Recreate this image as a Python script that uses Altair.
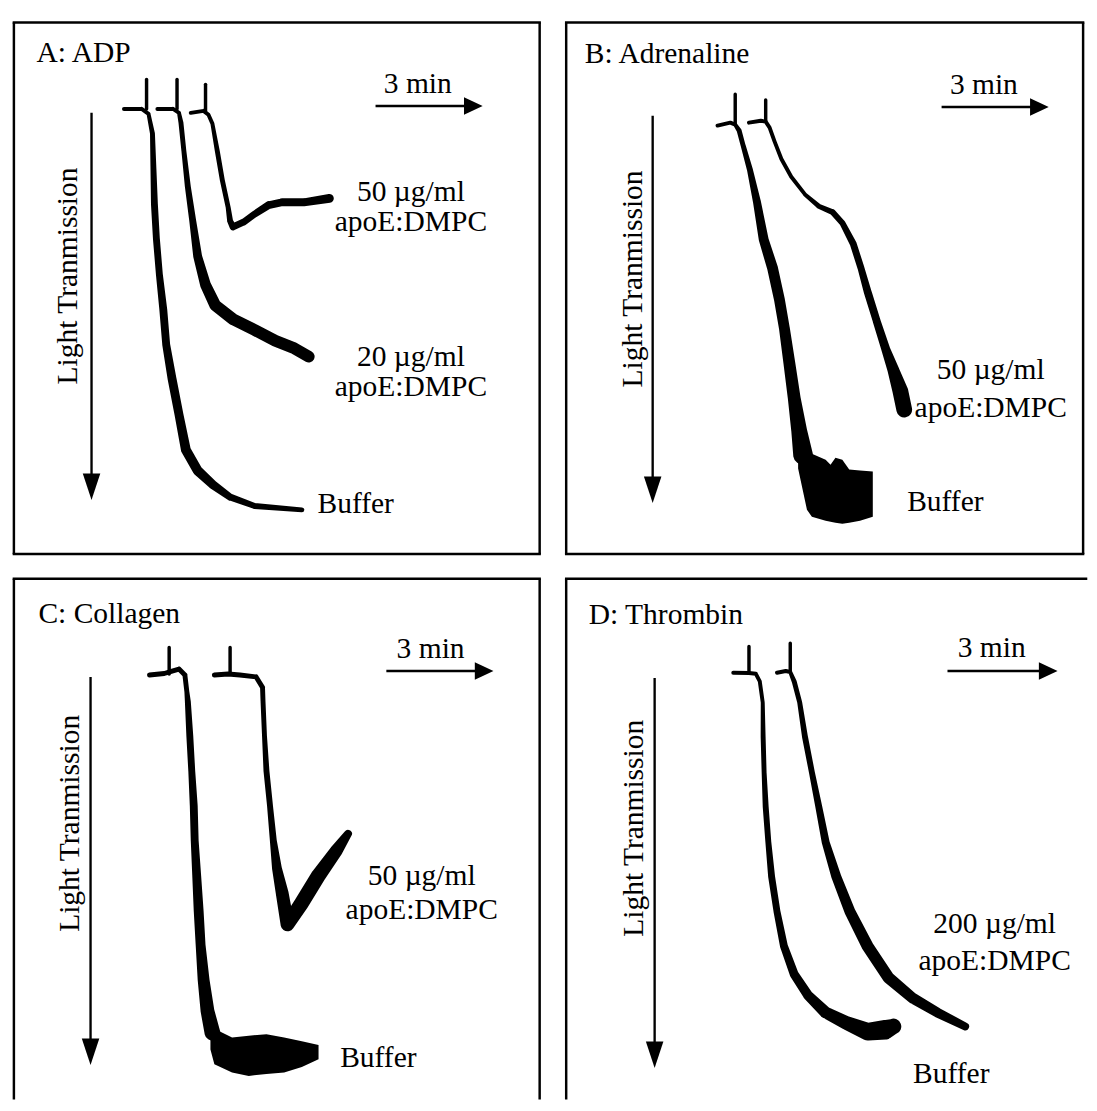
import altair as alt
import pandas as pd

FONT = "Liberation Serif"
FS = 30

# ---------------- panel sizes ----------------
PW = {"A": 535, "B": 526, "C": 535, "D": 520}
PH = {"A": 541, "B": 541, "C": 530, "D": 530}
BORDERS = {"A": ["l", "t", "r", "b"], "B": ["l", "t", "r", "b"], "C": ["l", "t", "r"], "D": ["l", "t"]}
TOP_EXTRA = {"A": 0, "B": 0, "C": 0, "D": 9}

# ---------------- Panel A: ADP ----------------
A_buf_x = [112, 130, 137, 141, 142, 143, 145, 148, 152, 155, 161, 168, 175, 187, 202, 220, 245, 293]
A_buf_y = [88, 88, 93, 113, 149, 185, 220, 256, 292, 328, 363, 399, 435, 456, 470, 483, 492, 496]
A_buf_w = [4, 4, 4, 5, 6, 7, 7, 7, 8, 8, 9, 9, 10, 10, 9, 7, 6, 5]
A_20_x = [146, 162, 168, 170, 173, 177, 182, 187, 195, 205, 223, 245, 266, 284, 300]
A_20_y = [88, 88, 92, 102, 131, 167, 202, 238, 267, 288, 302, 313, 324, 331, 340]
A_20_w = [4, 4, 4, 5, 5, 6, 7, 9, 11, 12, 12, 12, 12, 12, 12]
A_50_x = [180, 193, 198, 202, 207, 212, 218, 220, 223, 234, 245, 259, 273, 295, 321]
A_50_y = [92, 90, 94, 103, 131, 160, 188, 202, 208, 203, 195, 186, 183, 183, 179]
A_50_w = [4, 4, 4, 4, 5, 5, 5, 6, 7, 7, 7, 8, 8, 8, 9]
A_tick_x = [135, 166, 195]
A_tick_y0 = [88, 88, 90]
A_tick_y1 = [58, 58, 63]

# ---------------- Panel B: Adrenaline ----------------
B_buf_x = [154, 167, 172, 176, 180, 187, 194, 201, 210, 217, 222, 227, 232, 237, 241]
B_buf_y = [105, 102, 104, 110, 125, 150, 182, 221, 250, 282, 311, 346, 382, 415, 440]
B_buf_w = [4, 4, 4, 5, 5, 6, 8, 10, 11, 11, 11, 12, 13, 16, 20]
B_blob_x = [236, 245, 250, 264, 269, 274, 281, 288, 299, 312]
B_blob_top = [446, 442, 439, 445, 450, 443, 445, 455, 456, 457]
B_blob_bot = [454, 496, 503, 507, 508, 509, 510, 509, 507, 503]
B_50_x = [186, 198, 203, 207, 212, 219, 229, 243, 257, 271, 281, 292, 300, 307, 316, 325, 333, 340, 344]
B_50_y = [102, 100, 101, 107, 121, 139, 157, 175, 187, 193, 204, 225, 250, 275, 304, 332, 354, 375, 394]
B_50_w = [4, 4, 4, 4, 4, 4, 4, 4, 5, 6, 6, 7, 7, 8, 8, 9, 12, 16, 16]
B_tick_x = [172, 203]
B_tick_y0 = [104, 100]
B_tick_y1 = [73, 79]

# ---------------- Panel C: Collagen ----------------
C_buf_x = [138, 153, 161, 168, 174, 176, 177, 179, 181, 183, 184, 186, 188, 190, 193, 197, 202]
C_buf_y = [98, 96.5, 94, 92, 98, 115, 125, 160, 196, 231, 267, 302, 338, 373, 408, 440, 462]
C_buf_w = [5, 5, 5, 5, 5, 5, 6, 7, 7, 8, 8, 9, 10, 10, 12, 14, 16]
C_blob_x = [200, 204, 222, 239, 257, 275, 293, 310]
C_blob_top = [455, 458, 467, 465, 463.5, 467, 470.6, 474.5]
C_blob_bot = [479, 494, 502.5, 506, 504, 502.5, 497, 489]
C_50_x = [204, 218, 230, 246.5, 253, 253.5, 255, 257, 260.6, 264, 267.7, 273, 278.4, 292.6, 310, 328, 340]
C_50_y = [98, 97, 98, 100, 110.6, 124.8, 160, 195.7, 231, 266.7, 295, 320, 351.8, 330.5, 302, 277, 259.6]
C_50_w = [5, 5, 5, 5, 5, 5, 5, 6, 6, 7, 10, 13, 14, 15, 15, 13, 8]
C_tick_x = [158, 220]
C_tick_y0 = [97, 97]
C_tick_y1 = [70, 70]

# ---------------- Panel D: Thrombin ----------------
D_buf_x = [170, 186, 193, 197, 200, 200.4, 201.4, 203, 205.7, 209, 214.5, 221.6, 232, 246, 264, 285, 306.7, 324.5, 333]
D_buf_y = [95.7, 96, 96.8, 104.6, 126, 161, 197, 232, 268, 303, 338.7, 374, 402.5, 423.8, 441.5, 452, 461, 459, 455.7]
D_buf_w = [4, 4, 4, 4, 4, 5, 5, 6, 6, 7, 7, 8, 9, 10, 12, 14, 18, 20, 16]
D_200_x = [214.5, 223.4, 228, 232, 237.6, 243, 250, 257, 264, 274.8, 288.7, 306.7, 328, 352.8, 377.7, 406]
D_200_y = [95.7, 94, 95, 104.6, 126, 161, 197, 232, 268, 303, 338.7, 374, 406, 427, 441.5, 455.7]
D_200_w = [4, 4, 4, 5, 5, 6, 6, 7, 8, 10, 11, 12, 12, 11, 10, 8]
D_tick_x = [186, 228]
D_tick_y0 = [96, 95]
D_tick_y1 = [69, 65.6]

# ---------------- annotations (panel coordinates) ----------------
TITLES = {"A": ("A: ADP", 23, 31), "B": ("B: Adrenaline", 19, 32),
          "C": ("C: Collagen", 25, 36), "D": ("D: Thrombin", 23, 37)}
TIME_LABEL = {"A": (411, 63), "B": (425, 64), "C": (424, 72), "D": (433, 71)}
TIME_ARROW = {"A": (368, 477, 85), "B": (382, 491, 86), "C": (379, 488, 94), "D": (388, 500, 94)}
LT_LABEL = {"A": (55, 258), "B": (68, 261), "C": (57, 249), "D": (69, 254)}
LT_ARROW = {"A": (79, 92, 486), "B": (88, 95, 489), "C": (78, 100, 495), "D": (90, 101, 498)}
CONC_LABELS = {
    "A": [("50 µg/ml", 404, 173), ("apoE:DMPC", 404, 203), ("20 µg/ml", 404, 341), ("apoE:DMPC", 404, 371)],
    "B": [("50 µg/ml", 432, 354), ("apoE:DMPC", 432, 393)],
    "C": [("50 µg/ml", 415, 303), ("apoE:DMPC", 415, 337)],
    "D": [("200 µg/ml", 436, 352), ("apoE:DMPC", 436, 389)],
}
BUFFER_LABEL = {"A": (309, 490), "B": (347, 488), "C": (332, 488), "D": (353, 504)}

TRACES = {
    "A": [("Buffer", A_buf_x, A_buf_y, A_buf_w), ("20", A_20_x, A_20_y, A_20_w), ("50", A_50_x, A_50_y, A_50_w)],
    "B": [("Buffer", B_buf_x, B_buf_y, B_buf_w), ("50", B_50_x, B_50_y, B_50_w)],
    "C": [("Buffer", C_buf_x, C_buf_y, C_buf_w), ("50", C_50_x, C_50_y, C_50_w)],
    "D": [("Buffer", D_buf_x, D_buf_y, D_buf_w), ("200", D_200_x, D_200_y, D_200_w)],
}
TICKS = {"A": (A_tick_x, A_tick_y0, A_tick_y1), "B": (B_tick_x, B_tick_y0, B_tick_y1),
         "C": (C_tick_x, C_tick_y0, C_tick_y1), "D": (D_tick_x, D_tick_y0, D_tick_y1)}
BLOBS = {"B": (B_blob_x, B_blob_top, B_blob_bot), "C": (C_blob_x, C_blob_top, C_blob_bot)}

DOWN_HEAD = "M-0.33,-1L0.33,-1L0,0Z"
RIGHT_HEAD = "M-1,-0.47L0,0L-1,0.47Z"


def panel(k):
    W, H = PW[k], PH[k]
    X = alt.X("x:Q", scale=alt.Scale(domain=[0, W], nice=False, zero=False), axis=None)
    Y = alt.Y("y:Q", scale=alt.Scale(domain=[0, H], nice=False, zero=False, reverse=True), axis=None)

    rows = []
    for name, xs, ys, ws in TRACES[k]:
        for i, (x, y, w) in enumerate(zip(xs, ys, ws)):
            rows.append({"series": name, "i": i, "x": x, "y": y, "w": w})
    tx, ty0, ty1 = TICKS[k]
    for j, (x, y0, y1) in enumerate(zip(tx, ty0, ty1)):
        rows.append({"series": f"tick{j}", "i": 0, "x": x, "y": y0, "w": 3.5})
        rows.append({"series": f"tick{j}", "i": 1, "x": x, "y": y1, "w": 3.5})
    tr = pd.DataFrame(rows)

    layers = []
    one = pd.DataFrame({"a": [0]})
    bw = 2.5
    for side in BORDERS[k]:
        if side == "l":
            enc = dict(x=alt.value(0), y=alt.value(0), y2=alt.value(H))
        elif side == "r":
            enc = dict(x=alt.value(W), y=alt.value(0), y2=alt.value(H))
        elif side == "t":
            enc = dict(x=alt.value(-bw / 2), x2=alt.value(W + bw / 2 + TOP_EXTRA[k]), y=alt.value(0))
        else:
            enc = dict(x=alt.value(-bw / 2), x2=alt.value(W + bw / 2), y=alt.value(H))
        layers.append(alt.Chart(one).mark_rule(color="black", strokeWidth=bw).encode(**enc))

    layers.append(
        alt.Chart(tr).mark_trail(color="black").encode(
            x=X, y=Y,
            size=alt.Size("w:Q", scale=None, legend=None),
            detail="series:N",
            order=alt.Order("i:Q"),
        )
    )
    if k in BLOBS:
        bx, bt, bb = BLOBS[k]
        bdf = pd.DataFrame({"x": bx, "y": bt, "y2": bb})
        layers.append(alt.Chart(bdf).mark_area(color="black").encode(x=X, y=Y, y2="y2:Q"))

    # arrows
    ax0, ax1, ay = TIME_ARROW[k]
    lx, ly0, ly1 = LT_ARROW[k]
    arr = pd.DataFrame({"x": [ax0, lx], "x2": [ax1 - 10, lx], "y": [ay, ly0], "y2": [ay, ly1 - 12]})
    layers.append(alt.Chart(arr).mark_rule(color="black", strokeWidth=2.4).encode(x=X, x2="x2:Q", y=Y, y2="y2:Q"))
    layers.append(
        alt.Chart(pd.DataFrame({"x": [lx], "y": [ly1]})).mark_point(
            shape=DOWN_HEAD, size=2916, filled=True, color="black", opacity=1, strokeWidth=0
        ).encode(x=X, y=Y)
    )
    layers.append(
        alt.Chart(pd.DataFrame({"x": [ax1], "y": [ay]})).mark_point(
            shape=RIGHT_HEAD, size=1444, filled=True, color="black", opacity=1, strokeWidth=0
        ).encode(x=X, y=Y)
    )

    # texts
    t, tx_, ty_ = TITLES[k]
    bxl, byl = BUFFER_LABEL[k]
    left_df = pd.DataFrame({"x": [tx_, bxl], "y": [ty_, byl], "t": [t, "Buffer"]})
    layers.append(
        alt.Chart(left_df).mark_text(font=FONT, fontSize=FS, align="left", baseline="middle", color="black")
        .encode(x=X, y=Y, text="t:N")
    )
    cl = CONC_LABELS[k] + [("3 min", TIME_LABEL[k][0], TIME_LABEL[k][1])]
    cdf = pd.DataFrame({"t": [c[0] for c in cl], "x": [c[1] for c in cl], "y": [c[2] for c in cl]})
    layers.append(
        alt.Chart(cdf).mark_text(font=FONT, fontSize=FS, align="center", baseline="middle", color="black")
        .encode(x=X, y=Y, text="t:N")
    )
    vx, vy = LT_LABEL[k]
    vdf = pd.DataFrame({"x": [vx], "y": [vy], "t": ["Light Tranmission"]})
    layers.append(
        alt.Chart(vdf).mark_text(font=FONT, fontSize=FS, align="center", baseline="middle", angle=270, color="black")
        .encode(x=X, y=Y, text="t:N")
    )
    return alt.layer(*layers).properties(width=W, height=H)


row1 = alt.hconcat(panel("A"), panel("B"), spacing=21)
row2 = alt.hconcat(panel("C"), panel("D"), spacing=21)
chart = (
    alt.vconcat(row1, row2, spacing=21)
    .properties(padding={"left": 3, "top": 3, "right": 0, "bottom": 0}, background="white")
    .configure_view(strokeWidth=0)
)
chart.save("out.html", embed_options={"renderer": "svg", "actions": False})
